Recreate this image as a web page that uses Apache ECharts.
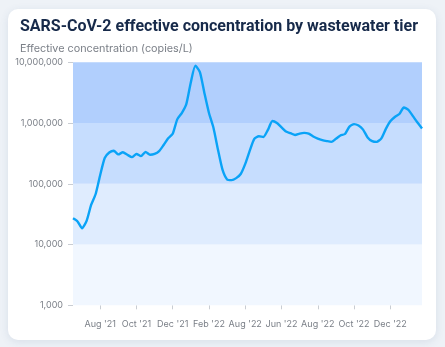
<!DOCTYPE html>
<html>
<head>
<meta charset="utf-8">
<script src="https://cdn.jsdelivr.net/npm/echarts@6/dist/echarts.min.js"></script>
<style>
  html, body { margin: 0; padding: 0; width: 445px; height: 347px; overflow: hidden; background: #eef2f7; }
  #card { position: absolute; left: 8px; top: 9px; width: 428px; height: 331px; background: #fff; border-radius: 10px; box-shadow: 0 2px 8px rgba(60, 90, 130, 0.12); }
  #chart { position: absolute; left: 0; top: 0; width: 445px; height: 347px; }
</style>
</head>
<body>
<div id="card"></div>
<div id="chart"></div>
<script>
// Weekly effective concentration (copies/L), one value per week
const concentration = [
  27000, 24000, 18500, 24500, 45000, 68000, 140000, 266000, 327000, 350000,
  305000, 330000, 300000, 275000, 310000, 285000, 335000, 300000, 310000, 345000,
  435000, 560000, 665000, 1150000, 1460000, 2050000, 4700000, 8800000, 6900000, 3100000,
  1460000, 830000, 360000, 169000, 118000, 115000, 124000, 145000, 213000, 352000,
  550000, 605000, 590000, 770000, 1080000, 1000000, 850000, 725000, 680000, 635000,
  670000, 690000, 670000, 600000, 555000, 525000, 505000, 490000, 550000, 625000,
  660000, 875000, 960000, 910000, 780000, 580000, 505000, 490000, 555000, 795000,
  1070000, 1260000, 1410000, 1800000, 1650000, 1300000, 1020000, 815000
];

// Axis tick labels, placed every 8 weeks starting at week 6
const tickLabels = ["Aug '21", "Oct '21", "Dec '21", "Feb '22", "Aug '22", "Jun '22", "Aug '22", "Oct '22", "Dec '22"];
const firstTickWeek = 6;
const tickEvery = 8;

// Wastewater tiers (lower, upper bounds in copies/L)
const tierBounds = [[1000, 10000], [10000, 100000], [100000, 1000000], [1000000, 10000000]];
const tierColors = ['#f1f7ff', '#dfecfe', '#c6ddfe', '#b1cffd'];

const weeks = concentration.map((_, i) => 'W' + i);
const isTick = (i) => i >= firstTickWeek && (i - firstTickWeek) % tickEvery === 0 && (i - firstTickWeek) / tickEvery < tickLabels.length;

const chart = echarts.init(document.getElementById('chart'), null, { renderer: 'canvas' });
chart.setOption({
  animation: false,
  backgroundColor: 'transparent',
  title: {
    text: 'SARS-CoV-2 effective concentration by wastewater tier',
    subtext: 'Effective concentration (copies/L)',
    left: 15,
    top: 14,
    itemGap: 8,
    textStyle: { fontFamily: 'Roboto', fontWeight: 'bold', fontSize: 16, color: '#172a4a' },
    subtextStyle: { fontFamily: 'Inter', fontSize: 10.8, color: '#7a7f87' }
  },
  grid: { left: 73, right: 23, top: 62.3, bottom: 41.7, containLabel: false },
  xAxis: {
    type: 'category',
    data: weeks,
    boundaryGap: false,
    axisLine: { show: false },
    axisTick: { show: true, interval: (i) => isTick(i), length: 4, lineStyle: { color: '#c9cdd3' } },
    axisLabel: {
      interval: (i) => isTick(i),
      formatter: (v, i) => isTick(i) ? tickLabels[(i - firstTickWeek) / tickEvery] : '',
      fontFamily: 'Inter', fontSize: 9, color: '#7a7f87', margin: 14
    },
    splitLine: { show: false }
  },
  yAxis: {
    type: 'log',
    logBase: 10,
    min: 1000,
    max: 10000000,
    axisLine: { show: false },
    axisTick: { show: true, length: 5, lineStyle: { color: '#c9cdd3' } },
    axisLabel: {
      fontFamily: 'Inter', fontSize: 9, color: '#7a7f87', margin: 10,
      formatter: (v) => Math.round(v).toLocaleString('en-US')
    },
    splitLine: { show: false }
  },
  series: [{
    type: 'line',
    data: concentration,
    showSymbol: false,
    smooth: 0.2,
    lineStyle: { color: '#0aa3f7', width: 2.4 },
    markArea: {
      silent: true,
      data: tierBounds.map((b, k) => [
        { yAxis: b[0], itemStyle: { color: tierColors[k] } },
        { yAxis: b[1] }
      ])
    },
    z: 3
  }]
});
</script>
</body>
</html>
